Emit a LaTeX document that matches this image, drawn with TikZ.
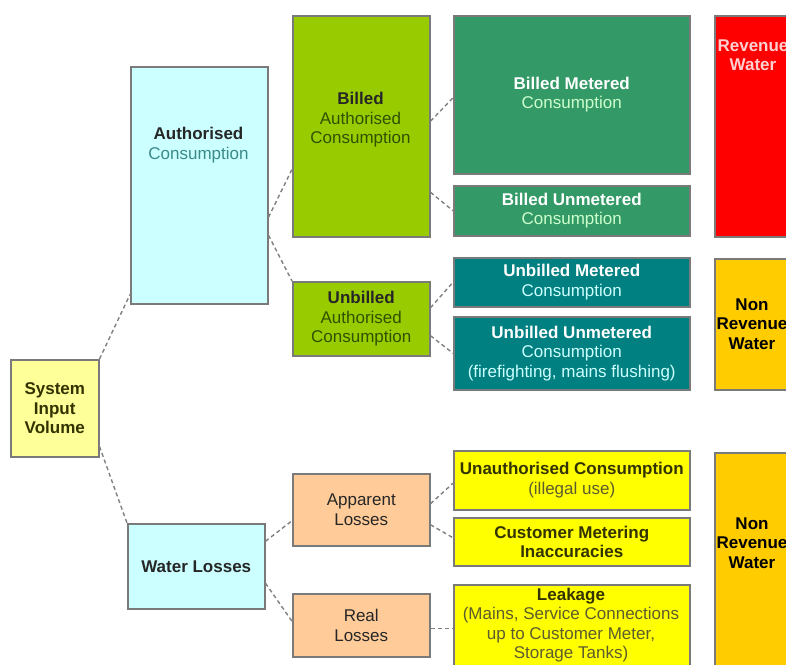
\documentclass[tikz,border=0pt]{standalone}
\usepackage{fontspec}
\setmainfont{Liberation Sans}
\usetikzlibrary{calc}
\definecolor{bordergray}{HTML}{7A7A7A}
\definecolor{linkgray}{HTML}{808080}
\definecolor{sivfill}{HTML}{FFFF99}
\definecolor{acfill}{HTML}{CCFFFF}
\definecolor{billfill}{HTML}{99CC00}
\definecolor{bmcfill}{HTML}{339966}
\definecolor{tealfill}{HTML}{008080}
\definecolor{redfill}{HTML}{FF0000}
\definecolor{goldfill}{HTML}{FFCC00}
\definecolor{peachfill}{HTML}{FFCC99}
\definecolor{yellowfill}{HTML}{FFFF00}
\definecolor{darktext}{HTML}{262626}
\definecolor{actext}{HTML}{3A8A8A}
\definecolor{billtext}{HTML}{2E5200}
\definecolor{palegreen}{HTML}{CCFFCC}
\definecolor{palecyan}{HTML}{CCFFFF}
\definecolor{palepink}{HTML}{FFD0D0}
\definecolor{olivetext}{HTML}{333300}
\definecolor{olivesub}{HTML}{5C5C2E}
\begin{document}
\begin{tikzpicture}[x=1pt,y=-1pt,
  box/.style={draw=bordergray, line width=1.5pt, rectangle, anchor=north west,
    inner sep=0pt, align=center, font=\fontsize{17}{19.5}\selectfont},
  txt/.style={align=center, inner sep=0pt, font=\fontsize{17}{19.5}\selectfont},
  link/.style={draw=linkgray, line width=1.4pt, dash pattern=on 4pt off 3pt}]
\useasboundingbox (0,0) rectangle (786,664);
\clip (0,0) rectangle (786,664);

% column 1
\node[box, fill=sivfill, minimum width=88pt, minimum height=97pt, text=olivetext] (siv) at (10,359)
  {\textbf{System}\\\textbf{Input}\\\textbf{Volume}};

% column 2
\node[box, fill=acfill, minimum width=137pt, minimum height=237pt] (ac) at (130,66) {};
\node[txt] (actxt) at (198.5,145) {\textcolor{darktext}{\textbf{Authorised}}\\\textcolor{actext}{Consumption}};
\node[box, fill=acfill, minimum width=137pt, minimum height=85pt, text=darktext] (wl) at (127,523)
  {\textbf{Water Losses}};

% column 3
\node[box, fill=billfill, minimum width=137pt, minimum height=221pt] (bac) at (292,15) {};
\node[txt, text=billtext] (bactxt) at (360.5,120)
  {\textbf{\textcolor{darktext}{Billed}}\\Authorised\\Consumption};
\node[box, fill=billfill, minimum width=137pt, minimum height=74pt, text=billtext] (uac) at (292,281)
  {\textbf{\textcolor{darktext}{Unbilled}}\\Authorised\\Consumption};
\node[box, fill=peachfill, minimum width=137pt, minimum height=72pt, text=darktext] (al) at (292,473)
  {Apparent\\Losses};
\node[box, fill=peachfill, minimum width=137pt, minimum height=63pt, text=darktext] (rl) at (292,593)
  {Real\\Losses};

% column 4
\node[box, fill=bmcfill, minimum width=236pt, minimum height=158pt] (bmc) at (453,15)
  {\textcolor{white}{\textbf{Billed Metered}}\\\textcolor{palegreen}{Consumption}};
\node[box, fill=bmcfill, minimum width=236pt, minimum height=50pt] (buc) at (453,185)
  {\textcolor{white}{\textbf{Billed Unmetered}}\\\textcolor{palegreen}{Consumption}};
\node[box, fill=tealfill, minimum width=236pt, minimum height=49pt] (umc) at (453,257)
  {\textcolor{white}{\textbf{Unbilled Metered}}\\\textcolor{palecyan}{Consumption}};
\node[box, fill=tealfill, minimum width=236pt, minimum height=73pt] (uuc) at (453,316)
  {\textcolor{white}{\textbf{Unbilled Unmetered}}\\\textcolor{palecyan}{Consumption}\\\textcolor{palecyan}{(firefighting, mains flushing)}};
\node[box, fill=yellowfill, minimum width=236pt, minimum height=59pt] (uc) at (453,450)
  {\textcolor{olivetext}{\textbf{Unauthorised Consumption}}\\\textcolor{olivesub}{(illegal use)}};
\node[box, fill=yellowfill, minimum width=236pt, minimum height=48pt, text=olivetext] (cmi) at (453,517)
  {\textbf{Customer Metering}\\\textbf{Inaccuracies}};
\node[box, fill=yellowfill, minimum width=236pt, minimum height=90pt] (lk) at (453,584) {};
\node[txt] (lktxt) at (571,625)
  {\textcolor{olivetext}{\textbf{Leakage}}\\\textcolor{olivesub}{(Mains, Service Connections}\\\textcolor{olivesub}{up to Customer Meter,}\\\textcolor{olivesub}{Storage Tanks)}};

% column 5
\node[box, fill=redfill, minimum width=90pt, minimum height=221pt] (rw) at (714,15) {};
\node[txt, text=palepink] (rwtxt) at (753,55) {\textbf{Revenue}\\\textbf{Water}};
\node[box, fill=goldfill, minimum width=90pt, minimum height=131pt] (nrw1) at (714,258) {};
\node[txt, text=black] (nrw1txt) at (752,324) {\textbf{Non}\\\textbf{Revenue}\\\textbf{Water}};
\node[box, fill=goldfill, minimum width=90pt, minimum height=230pt] (nrw2) at (714,452) {};
\node[txt, text=black] (nrw2txt) at (752,543) {\textbf{Non}\\\textbf{Revenue}\\\textbf{Water}};

% connectors
\draw[link] (siv.north east) -- ([yshift=10pt]ac.south west);
\draw[link] ([yshift=11pt]siv.south east) -- (wl.north west);
\draw[link] ([yshift=-32pt]ac.east) -- ([yshift=-43pt]bac.west);
\draw[link] ([yshift=-50pt]ac.east) -- (uac.north west);
\draw[link] ([yshift=5pt]bac.east) -- ([yshift=-3pt]bmc.west);
\draw[link] ([yshift=-66pt]bac.east) -- (buc.west);
\draw[link] ([yshift=11pt]uac.east) -- (umc.west);
\draw[link] ([yshift=-17pt]uac.east) -- (uuc.west);
\draw[link] ([yshift=25pt]wl.east) -- ([yshift=-11pt]al.west);
\draw[link] ([yshift=-17pt]wl.east) -- ([yshift=4pt]rl.west);
\draw[link] ([yshift=6pt]al.east) -- ([yshift=-3pt]uc.west);
\draw[link] ([yshift=-15pt]al.east) -- ([yshift=4pt]cmi.west);
\draw[link] ([yshift=-3pt]rl.east) -- ([yshift=-3pt]rl.east -| lk.west);
\end{tikzpicture}
\end{document}
